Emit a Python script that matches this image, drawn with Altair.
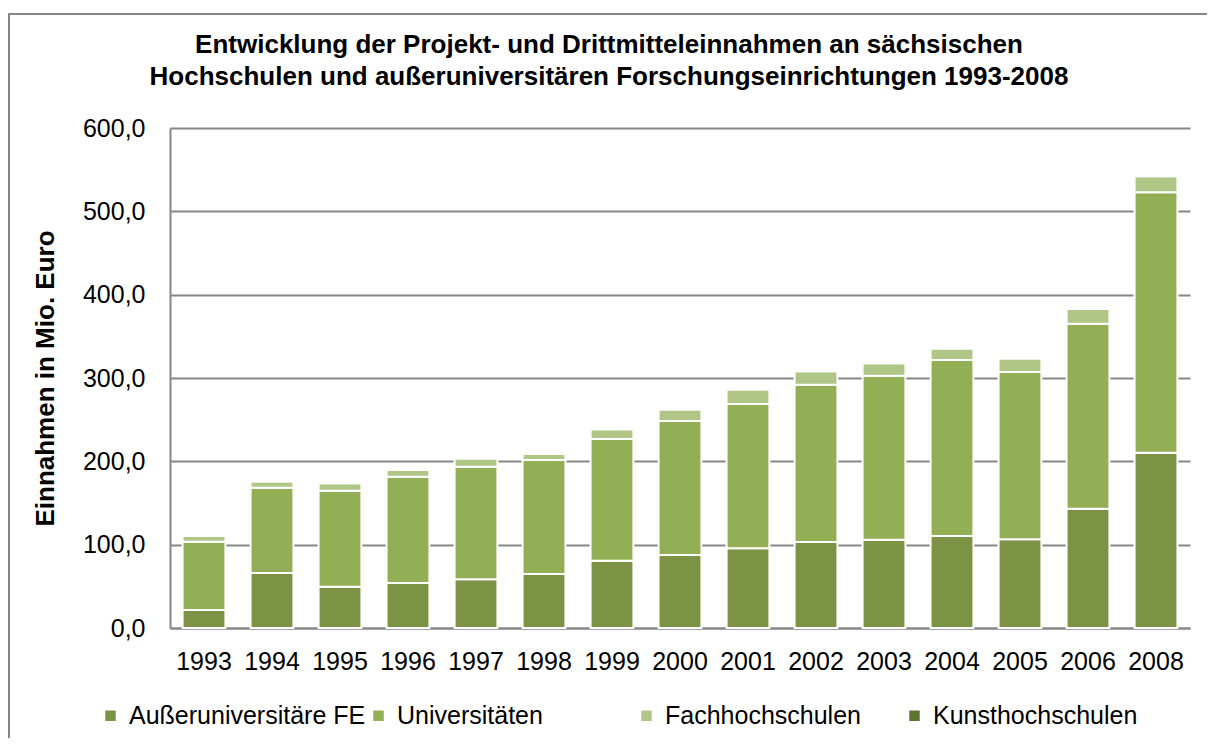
import altair as alt
import pandas as pd

years = ["1993", "1994", "1995", "1996", "1997", "1998", "1999", "2000",
         "2001", "2002", "2003", "2004", "2005", "2006", "2008"]
series = ["Außeruniversitäre FE", "Universitäten", "Fachhochschulen", "Kunsthochschulen"]
colors = ["#7C9244", "#93AF55", "#AFC686", "#5E7530"]

afe = [21.6, 66.0, 49.6, 54.0, 58.4, 64.8, 80.8, 87.6, 95.6, 103.2, 106.0, 110.4, 106.4, 143.2, 210.4]
uni = [82.0, 102.4, 115.2, 127.6, 135.2, 136.8, 146.0, 160.8, 173.2, 188.8, 196.8, 211.2, 200.8, 222.0, 312.4]
fh = [7.2, 7.3, 8.8, 8.4, 9.8, 7.4, 11.8, 13.8, 17.4, 16.2, 15.0, 13.8, 16.2, 17.8, 19.2]
kh = [0.8, 0.7, 0.8, 0.8, 1.0, 1.0, 1.0, 1.0, 1.0, 1.0, 1.0, 1.0, 1.0, 1.0, 1.2]

y_ticks = [0, 100, 200, 300, 400, 500, 600]

rows = []
for s_idx, (name, vals) in enumerate(zip(series, [afe, uni, fh, kh])):
    for yr, v in zip(years, vals):
        rows.append({"Jahr": yr, "Reihe": name, "Wert": v, "idx": s_idx})
df = pd.DataFrame(rows)

FONT = "Liberation Sans"
GRAY = "#868686"

bars = alt.Chart(df).mark_bar(stroke="white", strokeWidth=2).encode(
    x=alt.X("Jahr:N", sort=years,
            scale=alt.Scale(paddingInner=0.37, paddingOuter=0.185),
            axis=alt.Axis(title=None, labelAngle=0, ticks=False, labelPadding=21,
                          labelFontSize=25, domainColor=GRAY, domainWidth=2, grid=False)),
    y=alt.Y("Wert:Q", stack="zero",
            scale=alt.Scale(domain=[0, 600], nice=False),
            axis=alt.Axis(title="Einnahmen in Mio. Euro", values=y_ticks,
                          labelExpr="replace(format(datum.value, '.1f'), '.', ',')",
                          ticks=False, labelPadding=25, labelFontSize=25,
                          grid=True, gridColor=GRAY, gridWidth=2,
                          domainColor=GRAY, domainWidth=2,
                          titleFontSize=26, titleFontWeight="bold",
                          titleX=-125, titleY=250, titleBaseline="middle", titleAlign="center")),
    color=alt.Color("Reihe:N", sort=series,
                    scale=alt.Scale(domain=series, range=colors),
                    legend=alt.Legend(title=None, orient="none", legendX=-72, legendY=575,
                                      direction="horizontal", columns=4, gridAlign="all",
                                      columnPadding=0, symbolType="square", symbolSize=110,
                                      symbolStrokeWidth=0, labelFontSize=25, labelOffset=6,
                                      labelLimit=0, padding=0)),
    order=alt.Order("idx:Q", sort="ascending"),
)

frame = alt.Chart(alt.Data(values=[{"a": 1}])).mark_rect(
    fillOpacity=0, stroke=GRAY, strokeWidth=2
).encode(
    x=alt.value(-161), x2=alt.value(1080), y=alt.value(-114), y2=alt.value(650)
)

chart = alt.layer(frame, bars).properties(
    width=1020, height=500,
    padding={"left": 162, "top": 120, "right": 17, "bottom": 110},
    autosize=alt.AutoSizeParams(type="none"),
    title=alt.Title(
        ["Entwicklung der Projekt- und Drittmitteleinnahmen an sächsischen",
         "Hochschulen und außeruniversitären Forschungseinrichtungen 1993-2008"],
        fontSize=26, font=FONT, fontWeight="bold", anchor="middle", frame="group",
        dx=-71, dy=115, offset=38, lineHeight=32, color="black"),
).configure(font=FONT).configure_axis(
    labelColor="black", titleColor="black", labelFont=FONT, titleFont=FONT
).configure_legend(
    labelColor="black", labelFont=FONT
).configure_view(stroke="transparent")

chart.save("out.html", embed_options={"renderer": "svg", "actions": False})
